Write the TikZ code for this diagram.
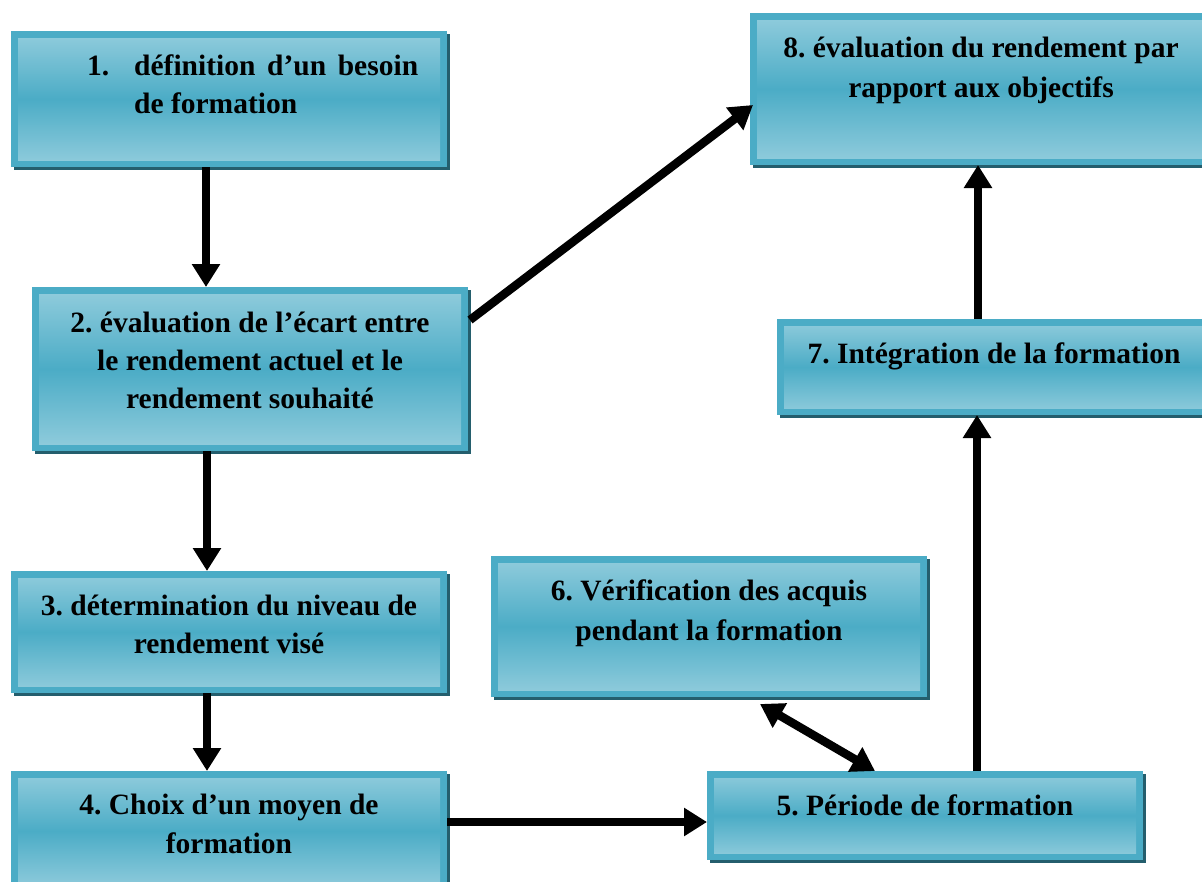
\documentclass[tikz,border=0pt]{standalone}
\usepackage{fontspec}
\setmainfont{Liberation Serif}
\usetikzlibrary{arrows.meta,calc,shadows}
\definecolor{rim}{HTML}{4BACC6}
\definecolor{pale}{HTML}{93CDDD}
\definecolor{boxshadow}{HTML}{245E6D}
\frenchspacing
\tikzset{
  stage/.style={fill=rim, draw=none, inner sep=0pt, outer sep=0pt,
    drop shadow={shadow xshift=3pt, shadow yshift=-3pt, fill=boxshadow, opacity=1},
    path picture={\shade[top color=pale, bottom color=pale, middle color=rim]
      ($(path picture bounding box.south west)+(7pt,7pt)$) rectangle
      ($(path picture bounding box.north east)+(-7pt,-7pt)$);}},
  lbl/.style={inner sep=0pt, anchor=base, font=\fontsize{29.5}{35}\selectfont\bfseries},
  arr/.style={line width=8.5pt, -{Triangle[length=23pt,width=27pt]}},
  darr/.style={line width=8.5pt, {Triangle[length=23pt,width=27pt]}-{Triangle[length=23pt,width=27pt]}}
}
\begin{document}
\begin{tikzpicture}[x=1pt, y=-1pt]
\useasboundingbox (0,0) rectangle (1202,881);
\clip (0,0) rectangle (1202,881);

% boxes
\node[stage, minimum width=436pt, minimum height=136pt] (b1) at (229,99) {};
\node[stage, minimum width=436pt, minimum height=164pt] (b2) at (250,369) {};
\node[stage, minimum width=436pt, minimum height=122pt] (b3) at (229,632) {};
\node[stage, minimum width=436pt, minimum height=120pt] (b4) at (229,831) {};
\node[stage, minimum width=436pt, minimum height=89pt] (b5) at (925,815.5) {};
\node[stage, minimum width=436pt, minimum height=141pt] (b6) at (709,626.5) {};
\node[stage, minimum width=436pt, minimum height=96pt] (b7) at (995,367) {};
\node[stage, minimum width=460pt, minimum height=152pt] (b8) at (980,89) {};

% texts
\node[lbl, anchor=base west] (t1n) at (87,75) {1.};
\node[lbl, anchor=base west] (t1a) at (134,75) {\hbox to 284pt{définition\hfil d’un\hfil besoin}};
\node[lbl, anchor=base west] (t1b) at (134,113) {de formation};
\node[lbl] (t2a) at (250,332) {2. évaluation de l’écart entre};
\node[lbl] (t2b) at (250,370) {le rendement actuel et le};
\node[lbl] (t2c) at (250,408) {rendement souhaité};
\node[lbl] (t3a) at (229,615) {3. détermination du niveau de};
\node[lbl] (t3b) at (229,653) {rendement visé};
\node[lbl] (t4a) at (229,814) {4. Choix d’un moyen de};
\node[lbl] (t4b) at (229,853) {formation};
\node[lbl] (t5) at (925,815) {5. Période de formation};
\node[lbl] (t6a) at (709,600) {6. Vérification des acquis};
\node[lbl] (t6b) at (709,640) {pendant la formation};
\node[lbl] (t7) at (994,363) {7. Intégration de la formation};
\node[lbl] (t8a) at (981,57) {8. évaluation du rendement par};
\node[lbl] (t8b) at (981,97) {rapport aux objectifs};

% connectors
\coordinate (p12) at ($(b1.south)+(-23,0)$);
\draw[arr] (p12) -- (p12 |- b2.north);
\coordinate (p23) at ($(b2.south)+(-43,0)$);
\draw[arr] (p23) -- (p23 |- b3.north);
\coordinate (p34) at ($(b3.south)+(-22,0)$);
\draw[arr] (p34) -- (p34 |- b4.north);
\coordinate (p45) at ($(b4.east)+(0,-9)$);
\draw[arr] (p45) -- (p45 -| b5.west);
\coordinate (p28a) at ($(b2.east)+(2,-49)$);
\coordinate (p28b) at ($(b8.west)+(3,16)$);
\draw[arr] (p28a) -- (p28b);
\coordinate (p57) at ($(b5.north)+(52,0)$);
\draw[arr] (p57) -- (p57 |- b7.south);
\coordinate (p78) at ($(b7.north)+(-17,0)$);
\draw[arr] (p78) -- (p78 |- b8.south);
\coordinate (p56a) at ($(b5.north)+(-50,0)$);
\coordinate (p56b) at ($(b6.south)+(51,7)$);
\draw[darr] (p56a) -- (p56b);
\end{tikzpicture}
\end{document}
